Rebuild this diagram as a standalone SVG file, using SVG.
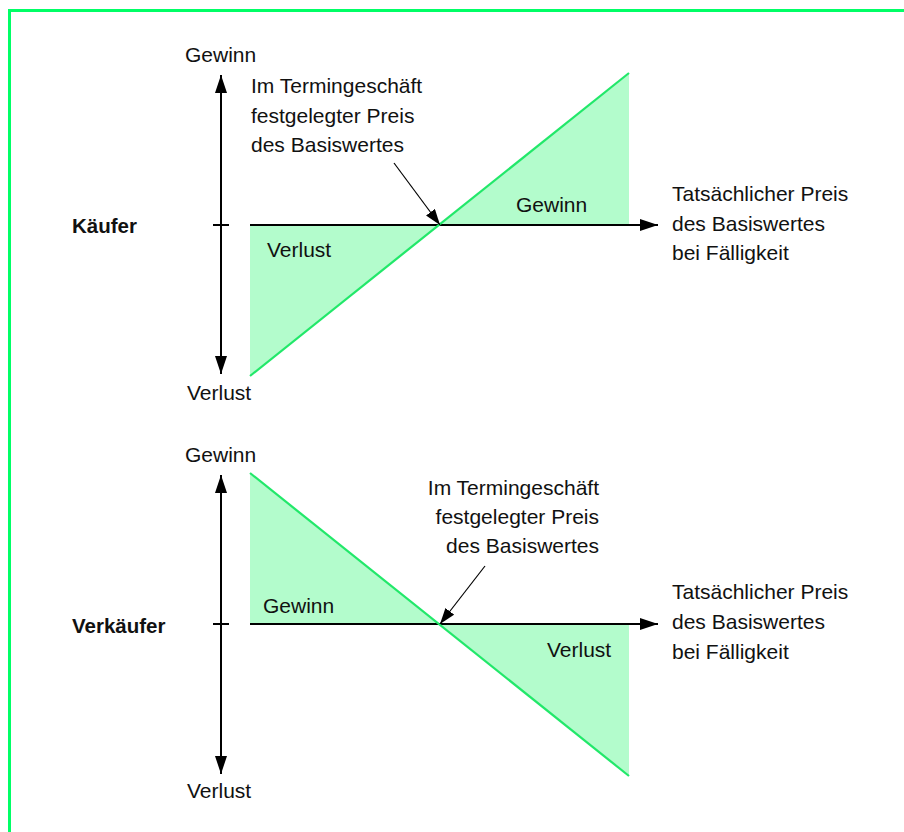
<svg xmlns="http://www.w3.org/2000/svg" width="904" height="832" viewBox="0 0 904 832">
  <style>
    text { font-family: "Liberation Sans", Arial, sans-serif; font-size: 21px; fill: #111; }
    .role { font-weight: bold; font-size: 20.5px; }
    .axis { stroke: #000; stroke-width: 2; fill: none; }
    .lead { stroke: #000; stroke-width: 1.2; fill: none; }
    .area { fill: #b3fccc; stroke: none; }
    .payoff { stroke: #22e86a; stroke-width: 2.2; fill: none; }
    .frame { stroke: #00ff66; stroke-width: 3; fill: none; }
  </style>
  <defs>
    <marker id="axis-head" markerUnits="userSpaceOnUse" markerWidth="19" markerHeight="12" refX="18" refY="6" orient="auto">
      <path d="M0,0 L18,6 L0,12 Z" fill="#000"/>
    </marker>
    <marker id="lead-head" markerUnits="userSpaceOnUse" markerWidth="17" markerHeight="12" refX="16" refY="5.5" orient="auto">
      <path d="M0,0 L16,5.5 L0,11 Z" fill="#000"/>
    </marker>
  </defs>

  <rect width="904" height="832" fill="#fff"/>
  <!-- open frame: top and left edges -->
  <path class="frame" d="M9.5,832 V10.5 H904"/>

  <!-- ===== Buyer chart ===== -->
  <g id="buyer-areas">
    <polygon class="area" points="250,225 440,225 250,376"/>
    <polygon class="area" points="440,225 629,225 629,73"/>
  </g>
  <g id="buyer-axes">
    <line class="axis" x1="221" y1="225" x2="221" y2="75" marker-end="url(#axis-head)"/>
    <line class="axis" x1="221" y1="225" x2="221" y2="374" marker-end="url(#axis-head)"/>
    <line class="axis" x1="213" y1="225" x2="229" y2="225"/>
    <line class="axis" x1="250" y1="225" x2="658" y2="225" marker-end="url(#axis-head)"/>
  </g>
  <g id="buyer-payoff">
    <line class="payoff" x1="250" y1="376" x2="629" y2="73"/>
  </g>
  <g id="buyer-labels">
    <text x="185" y="62">Gewinn</text>
    <text x="187" y="400">Verlust</text>
    <text class="role" x="72" y="233">Käufer</text>
    <text x="516" y="212">Gewinn</text>
    <text x="267" y="257">Verlust</text>
  </g>
  <g id="buyer-strike">
    <text x="251" y="93">Im Termingeschäft</text>
    <text x="251" y="123">festgelegter Preis</text>
    <text x="251" y="152">des Basiswertes</text>
  </g>
  <g id="buyer-price">
    <text x="672" y="201">Tatsächlicher Preis</text>
    <text x="672" y="231">des Basiswertes</text>
    <text x="672" y="260">bei Fälligkeit</text>
  </g>

  <!-- ===== Seller chart ===== -->
  <g id="seller-areas">
    <polygon class="area" points="250,473 250,624 440,624"/>
    <polygon class="area" points="440,624 629,624 629,776"/>
  </g>
  <g id="seller-axes">
    <line class="axis" x1="221" y1="624" x2="221" y2="475" marker-end="url(#axis-head)"/>
    <line class="axis" x1="221" y1="624" x2="221" y2="774" marker-end="url(#axis-head)"/>
    <line class="axis" x1="213" y1="624" x2="229" y2="624"/>
    <line class="axis" x1="250" y1="624" x2="658" y2="624" marker-end="url(#axis-head)"/>
  </g>
  <g id="seller-payoff">
    <line class="payoff" x1="250" y1="473" x2="629" y2="776"/>
  </g>
  <g id="seller-labels">
    <text x="185" y="462">Gewinn</text>
    <text x="187" y="798">Verlust</text>
    <text class="role" x="72" y="633">Verkäufer</text>
    <text x="263" y="613">Gewinn</text>
    <text x="547" y="657">Verlust</text>
  </g>
  <g id="seller-strike" text-anchor="end">
    <text x="599" y="495">Im Termingeschäft</text>
    <text x="599" y="524">festgelegter Preis</text>
    <text x="599" y="553">des Basiswertes</text>
  </g>
  <g id="seller-price">
    <text x="672" y="599">Tatsächlicher Preis</text>
    <text x="672" y="629">des Basiswertes</text>
    <text x="672" y="659">bei Fälligkeit</text>
  </g>

  <!-- leader arrows pointing at the strike price -->
  <g id="connectors">
    <line class="lead" x1="394" y1="163" x2="440" y2="225" marker-end="url(#lead-head)"/>
    <line class="lead" x1="485" y1="566" x2="440" y2="624" marker-end="url(#lead-head)"/>
  </g>
</svg>
